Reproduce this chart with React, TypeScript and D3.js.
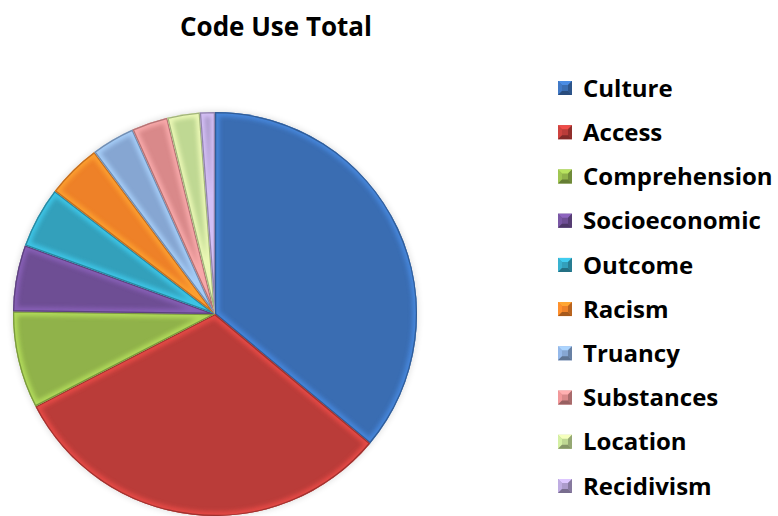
import React from "react";
import * as d3 from "d3";

const categories = ["Culture", "Access", "Comprehension", "Socioeconomic", "Outcome", "Racism", "Truancy", "Substances", "Location", "Recidivism"];
const values = [36.1, 31.4, 7.8, 5.3, 4.9, 4.4, 3.5, 2.9, 2.6, 1.2];
const colors = ["#3A6DB2", "#BA3C39", "#90B24A", "#6E4E94", "#33A0BB", "#EE8128", "#86A6D2", "#D9898A", "#BFD893", "#AC9BCB"];
const title = "Code Use Total";

const FONT = "'Open Sans', Lato, sans-serif";

export default function App() {
  const W = 778, H = 516;
  const cx = 215, cy = 314, r = 202;
  const pie = d3.pie<number>().sort(null).value(d => d)(values);
  const arc = d3.arc<d3.PieArcDatum<number>>().innerRadius(0).outerRadius(r);
  const legendY = d3.scalePoint<string>().domain(categories).range([88, 486]);
  return (
    <svg width={W} height={H} style={{ position: "absolute", left: 0, top: 0, background: "#fff" }}>
      <defs>
        <filter id="blur" x="-20%" y="-20%" width="140%" height="140%">
          <feGaussianBlur stdDeviation="2" />
        </filter>
        <filter id="shadow" x="-20%" y="-20%" width="140%" height="140%">
          <feGaussianBlur stdDeviation="3" />
        </filter>
        {pie.map((p, i) => (
          <clipPath id={`clip${i}`} key={i}>
            <path d={arc(p) || ""} />
          </clipPath>
        ))}
      </defs>
      <text x={276} y={36} textAnchor="middle" fontFamily={FONT} fontWeight="bold" fontSize={26} fill="#000">{title}</text>
      <g transform={`translate(${cx},${cy})`}>
        <circle r={r + 1} fill="#000" opacity={0.12} filter="url(#shadow)" />
        {pie.map((p, i) => (
          <g key={i}>
            <path d={arc(p) || ""} fill={colors[i]} />
            <g clipPath={`url(#clip${i})`}>
              <path d={arc(p) || ""} fill="none" stroke={d3.color(colors[i])!.brighter(0.7).toString()} strokeWidth={9} filter="url(#blur)" opacity={0.8} />
              <path d={arc(p) || ""} fill="none" stroke={d3.color(colors[i])!.darker(0.8).toString()} strokeWidth={2.5} opacity={0.8} />
            </g>
          </g>
        ))}
      </g>
      <g>
        {categories.map((c, i) => {
          const y = legendY(c)!;
          const base = d3.color(colors[i])!;
          const light = base.brighter(0.7).toString();
          const dark = base.darker(0.7).toString();
          return (
            <g key={c} transform={`translate(558,${y})`}>
              <rect x={0} y={-7} width={14} height={14} fill={colors[i]} />
              <polygon points="0,-7 14,-7 10,-3 4,-3" fill={light} />
              <polygon points="0,-7 4,-3 4,3 0,7" fill={base.brighter(0.3).toString()} />
              <polygon points="14,-7 14,7 10,3 10,-3" fill={dark} />
              <polygon points="0,7 4,3 10,3 14,7" fill={base.darker(1).toString()} />
              <text x={25} y={0} dy="0.36em" fontFamily={FONT} fontWeight="bold" fontSize={24} fill="#000">{c}</text>
            </g>
          );
        })}
      </g>
    </svg>
  );
}
